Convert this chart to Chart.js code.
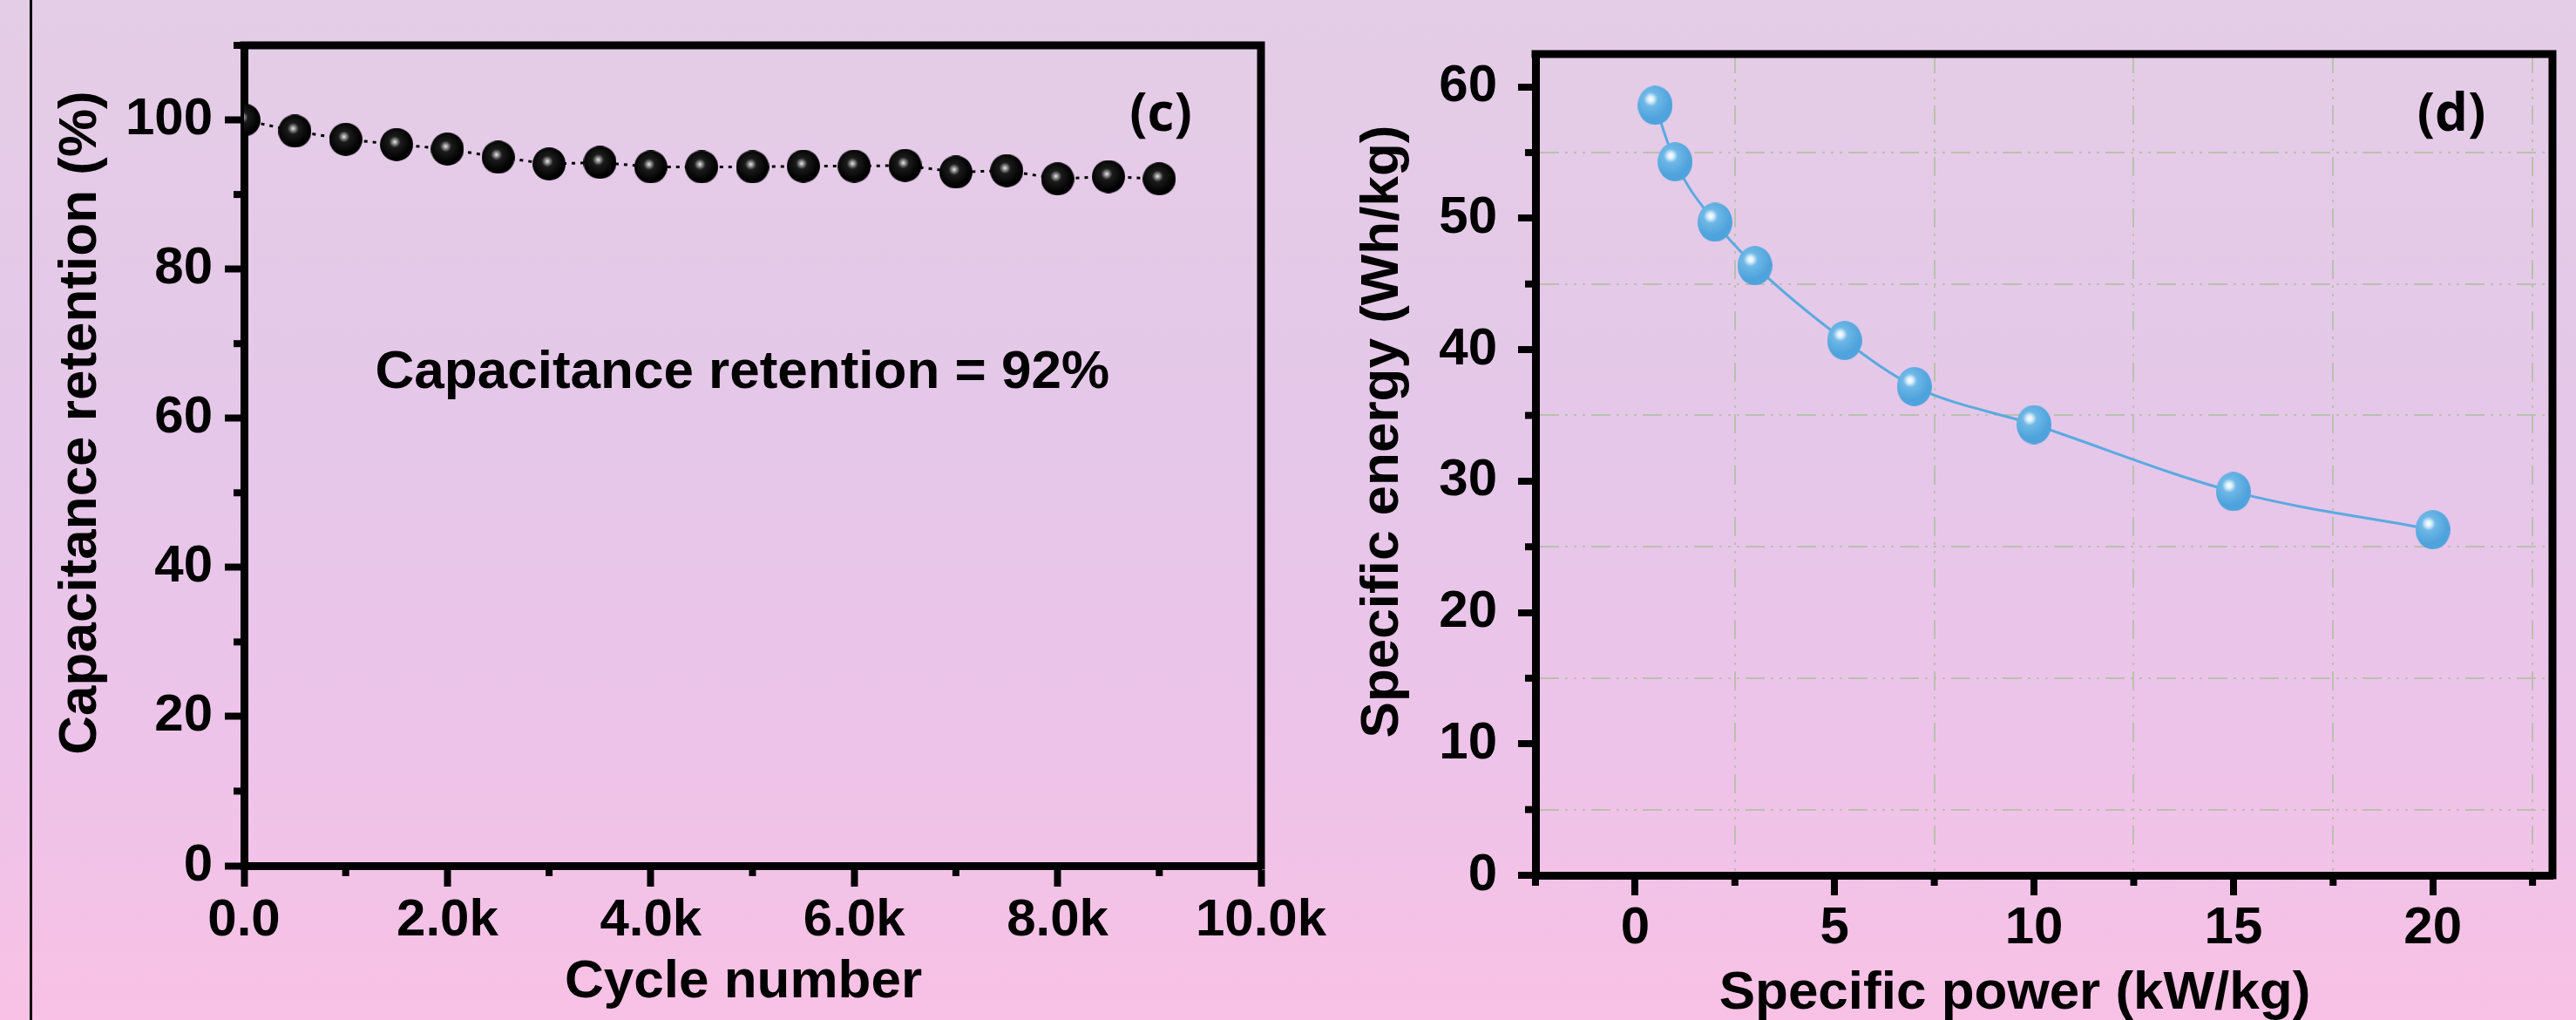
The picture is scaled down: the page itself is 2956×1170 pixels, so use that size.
<!DOCTYPE html>
<html>
<head>
<meta charset="utf-8">
<script src="https://cdn.jsdelivr.net/npm/chart.js@4.4.1/dist/chart.umd.min.js"></script>
<style>
  html, body { margin: 0; padding: 0; }
  body {
    position: relative; width: 2956px; height: 1170px; overflow: hidden;
    background: linear-gradient(to bottom, #e4cde6 0%, #e5c7e9 45%, #eec3e9 75%, #f8c1e5 100%);
  }
  #edge { position: absolute; left: 34px; top: 0; width: 3px; height: 1170px; background: #000; }
  #retentionChart { position: absolute; left: 0; top: 0; }
  #energyChart { position: absolute; left: 1478px; top: 0; }
</style>
</head>
<body>
<div id="edge"></div>
<canvas id="retentionChart" width="1560" height="1170"></canvas>
<canvas id="energyChart" width="1478" height="1170"></canvas>
<script>
// (c) cycling stability
const cycles = [0, 500, 1000, 1500, 2000, 2500, 3000, 3500, 4000, 4500, 5000, 5500, 6000, 6500, 7000, 7500, 8000, 8500, 9000];
const retention = [100, 98.5, 97.4, 96.7, 96.1, 95.0, 94.1, 94.3, 93.7, 93.7, 93.7, 93.8, 93.8, 93.9, 93.0, 93.2, 92.1, 92.4, 92.1];
const cycleTicks = [0, 2000, 4000, 6000, 8000, 10000];
const cycleTickLabels = ['0.0', '2.0k', '4.0k', '6.0k', '8.0k', '10.0k'];
const retentionTicks = [0, 20, 40, 60, 80, 100];

// (d) specific energy vs specific power
const power = [0.5, 1, 2, 3, 5.25, 7, 10, 15, 20];
const energy = [58.6, 54.3, 49.7, 46.4, 40.7, 37.2, 34.3, 29.2, 26.3];
const powerTicks = [0, 5, 10, 15, 20];
const energyTicks = [0, 10, 20, 30, 40, 50, 60];

const FONT = "'Liberation Sans', Arial, sans-serif";
Chart.defaults.font.family = FONT;
Chart.defaults.color = '#000';

// shaded ball used as point marker
function ball(w, h, hx, hy, stops) {
  const c = document.createElement('canvas');
  c.width = w; c.height = h;
  const g = c.getContext('2d');
  const grad = g.createRadialGradient(w / 2 + hx, h / 2 + hy, 0, w / 2 + hx, h / 2 + hy, Math.max(w, h) / 2);
  stops.forEach(s => grad.addColorStop(s[0], s[1]));
  g.fillStyle = grad;
  g.beginPath();
  g.ellipse(w / 2, h / 2, w / 2, h / 2, 0, 0, Math.PI * 2);
  g.fill();
  return c;
}
const blackBall = ball(38, 38, -2, -3, [[0, '#f2f2f2'], [0.12, '#9c9c9c'], [0.34, '#1c1c1c'], [1, '#000']]);
const blueBall = ball(40, 45, -5, -7, [[0, '#ffffff'], [0.14, '#dff1fb'], [0.36, '#6eb8e7'], [1, '#4fa3dc']]);

const labelFrom = (vals, labels) => v => { const i = vals.indexOf(v); return i < 0 ? '' : labels[i]; };
const tickCol = list => c => (c.tick && list.includes(c.tick.value)) ? '#000' : 'rgba(0,0,0,0)';
const gridCol = list => c => (c.tick && !list.includes(c.tick.value) && c.tick.value !== c.scale.min)
  ? 'rgba(180,192,166,0.9)' : 'rgba(0,0,0,0)';

// top and right sides of the box
const frame = w => ({
  id: 'frame',
  afterDraw(chart) {
    const {ctx, chartArea: a} = chart;
    ctx.save();
    ctx.strokeStyle = '#000';
    ctx.lineWidth = w;
    ctx.beginPath();
    ctx.moveTo(a.left - w / 2, a.top);
    ctx.lineTo(a.right, a.top);
    ctx.lineTo(a.right, a.bottom + w / 2);
    ctx.stroke();
    ctx.restore();
  }
});

// short ticks for the unlabelled steps
const minor = (major, len, w) => ({
  id: 'minorTicks',
  afterDraw(chart) {
    const ctx = chart.ctx;
    ctx.save();
    ctx.strokeStyle = '#000';
    ctx.lineWidth = w;
    ['x', 'y'].forEach(id => {
      const s = chart.scales[id];
      s.ticks.forEach(t => {
        if (major[id].includes(t.value)) return;
        const p = s.getPixelForValue(t.value);
        ctx.beginPath();
        if (s.isHorizontal()) { ctx.moveTo(p, s.top); ctx.lineTo(p, s.top + len); }
        else { ctx.moveTo(s.right, p); ctx.lineTo(s.right - len, p); }
        ctx.stroke();
      });
    });
    ctx.restore();
  }
});

// axis titles and labels
const texts = items => ({
  id: 'panelText',
  afterDraw(chart) {
    const ctx = chart.ctx;
    items.forEach(t => {
      let x = t.x, y = t.y;
      if (t.data) { x = chart.scales.x.getPixelForValue(t.x); y = chart.scales.y.getPixelForValue(t.y); }
      ctx.save();
      ctx.translate(x, y);
      if (t.rotate) ctx.rotate(t.rotate);
      ctx.font = t.font;
      ctx.fillStyle = '#000';
      ctx.textAlign = 'center';
      ctx.textBaseline = t.baseline || 'middle';
      ctx.fillText(t.text, 0, 0);
      ctx.restore();
    });
  }
});

const tickFont = {size: 60, weight: 'bold'};
const titleFont = `bold 62px ${FONT}`;
const tagFont = "bold 60px 'Open Sans', sans-serif";

new Chart(document.getElementById('retentionChart'), {
  type: 'line',
  data: {
    datasets: [{
      data: cycles.map((c, i) => ({x: c, y: retention[i]})),
      borderColor: '#000',
      borderWidth: 3,
      borderDash: [4, 6],
      pointStyle: blackBall,
      pointRadius: 19,
      tension: 0
    }]
  },
  options: {
    responsive: false,
    animation: false,
    events: [],
    layout: {padding: {left: 0, top: 52, right: 113, bottom: 0}},
    plugins: {legend: {display: false}, tooltip: {enabled: false}},
    scales: {
      x: {
        type: 'linear', min: 0, max: 10000,
        afterFit: s => { s.height = 177; },
        border: {width: 9, color: '#000'},
        grid: {drawOnChartArea: false, tickLength: 24, tickWidth: 8, tickColor: tickCol(cycleTicks)},
        ticks: {stepSize: 1000, autoSkip: false, maxRotation: 0, minRotation: 0, padding: 3,
                font: tickFont, color: '#000', callback: labelFrom(cycleTicks, cycleTickLabels)}
      },
      y: {
        min: 0, max: 110,
        afterFit: s => { s.width = 280; },
        border: {width: 9, color: '#000'},
        grid: {drawOnChartArea: false, tickLength: 22, tickWidth: 8, tickColor: tickCol(retentionTicks)},
        ticks: {stepSize: 10, autoSkip: false, padding: 14, font: tickFont, color: '#000',
                callback: labelFrom(retentionTicks, retentionTicks.map(String))}
      }
    }
  },
  plugins: [
    frame(9),
    minor({x: cycleTicks, y: retentionTicks}, 12, 8),
    texts([
      {text: 'Capacitance retention (%)', x: 93, y: 485, rotate: -Math.PI / 2, font: titleFont},
      {text: 'Cycle number', x: 853, y: 1127, font: titleFont},
      {text: 'Capacitance retention = 92%', data: true, x: 4900, y: 66, font: titleFont},
      {text: '(c)', x: 1332, y: 150, baseline: 'alphabetic', font: tagFont}
    ])
  ]
});

new Chart(document.getElementById('energyChart'), {
  type: 'line',
  data: {
    datasets: [{
      data: power.map((p, i) => ({x: p, y: energy[i]})),
      borderColor: '#5aaae0',
      borderWidth: 3,
      tension: 0.4,
      cubicInterpolationMode: 'monotone',
      pointStyle: blueBall,
      pointRadius: 21
    }]
  },
  options: {
    responsive: false,
    animation: false,
    events: [],
    layout: {padding: {left: 0, top: 62, right: 27, bottom: 0}},
    plugins: {legend: {display: false}, tooltip: {enabled: false}},
    scales: {
      x: {
        type: 'linear', min: -2.5, max: 23,
        afterFit: s => { s.height = 166; },
        border: {width: 9, color: '#000', dash: [22, 7, 3, 7, 3, 7, 3, 7]},
        grid: {lineWidth: 2, color: gridCol(powerTicks), tickLength: 23, tickWidth: 8, tickColor: tickCol(powerTicks)},
        ticks: {stepSize: 2.5, includeBounds: false, autoSkip: false, maxRotation: 0, minRotation: 0, padding: 2,
                font: tickFont, color: '#000', callback: labelFrom(powerTicks, powerTicks.map(String))}
      },
      y: {
        min: 0, max: 62.5,
        afterFit: s => { s.width = 284; },
        border: {width: 9, color: '#000', dash: [22, 7, 3, 7, 3, 7, 3, 7]},
        grid: {lineWidth: 2, color: gridCol(energyTicks), tickLength: 20, tickWidth: 8, tickColor: tickCol(energyTicks)},
        ticks: {stepSize: 5, includeBounds: false, autoSkip: false, padding: 24, font: tickFont, color: '#000',
                callback: labelFrom(energyTicks, energyTicks.map(String))}
      }
    }
  },
  plugins: [
    frame(9),
    minor({x: powerTicks, y: energyTicks}, 12, 8),
    texts([
      {text: 'Specific energy (Wh/kg)', x: 109, y: 495, rotate: -Math.PI / 2, font: titleFont},
      {text: 'Specific power (kW/kg)', x: 834, y: 1140, font: titleFont},
      {text: '(d)', x: 1335, y: 150, baseline: 'alphabetic', font: tagFont}
    ])
  ]
});
</script>
</body>
</html>
